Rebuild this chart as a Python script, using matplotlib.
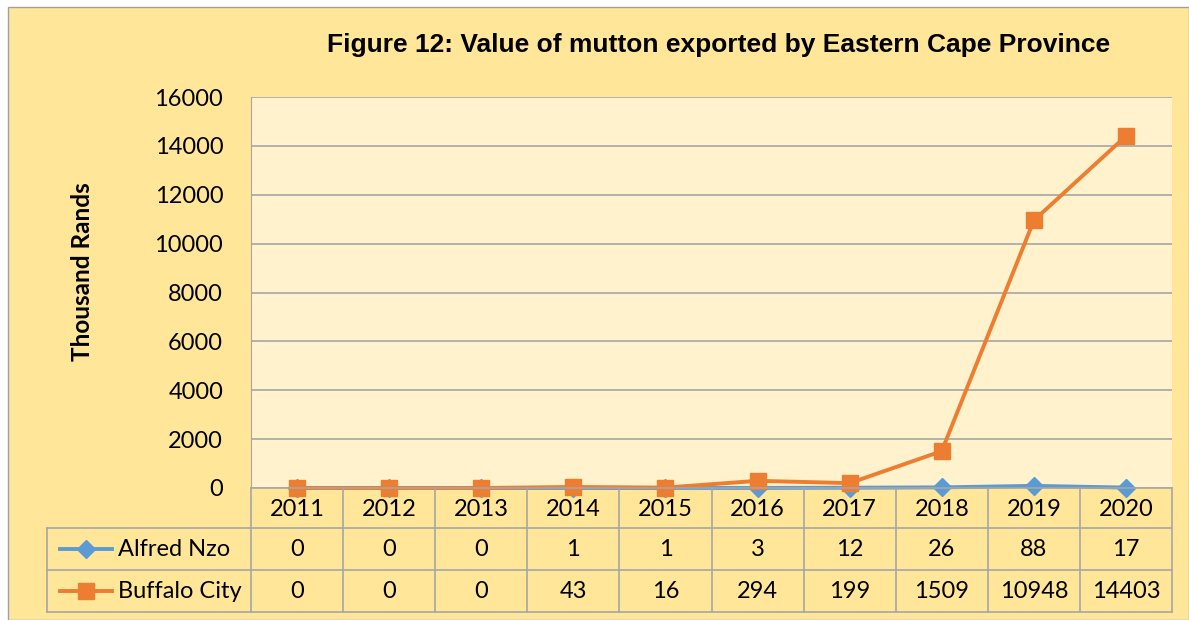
import matplotlib
matplotlib.use('Agg')
import matplotlib.pyplot as plt
from matplotlib.patches import Rectangle
from matplotlib.lines import Line2D

years = ['2011', '2012', '2013', '2014', '2015', '2016', '2017', '2018', '2019', '2020']
alfred_nzo = [0, 0, 0, 1, 1, 3, 12, 26, 88, 17]
buffalo_city = [0, 0, 0, 43, 16, 294, 199, 1509, 10948, 14403]
series_names = ['Alfred Nzo', 'Buffalo City']
y_ticks = [0, 2000, 4000, 6000, 8000, 10000, 12000, 14000, 16000]

W, H = 1189, 620
outer_bg = '#FFE699'
plot_bg = '#FFF2CC'
grid_c = '#A6A6A6'
blue = '#5B9BD5'
orange = '#ED7D31'

plt.rcParams['font.family'] = ['Lato', 'DejaVu Sans']

fig = plt.figure(figsize=(W / 100, H / 100), dpi=100)
fig.patch.set_facecolor('white')
# chart area frame
fig.patches.append(Rectangle((8 / W, 0), 1 - 8 / W, 1 - 7 / H, transform=fig.transFigure,
                             facecolor=outer_bg, edgecolor='#A0A0A0', linewidth=1, zorder=-10))

left, right, top, bottom = 251, 1172, 97, 488
ax = fig.add_axes([left / W, 1 - bottom / H, (right - left) / W, (bottom - top) / H])
ax.set_facecolor(plot_bg)

x = list(range(len(years)))
ax.plot(x, alfred_nzo, color=blue, lw=2.8, marker='D', ms=9, clip_on=False, zorder=3)
ax.plot(x, buffalo_city, color=orange, lw=2.8, marker='s', ms=11, clip_on=False, zorder=4)

ax.set_xlim(-0.5, len(years) - 0.5)
ax.set_ylim(0, 16000)
ax.set_yticks(y_ticks)
ax.set_yticklabels([str(v) for v in y_ticks], fontsize=17)
ax.tick_params(axis='y', length=0, pad=20)
ax.set_xticks([])
ax.grid(axis='y', color=grid_c, lw=1.2)
ax.set_axisbelow(True)
for s in ['top', 'right', 'bottom']:
    ax.spines[s].set_visible(False)
ax.spines['left'].set_color(grid_c)

fig.text(719 / W, 1 - 45 / H, 'Figure 12: Value of mutton exported by Eastern Cape Province',
         fontsize=19, fontweight='bold', family=['Liberation Sans', 'DejaVu Sans'],
         ha='center', va='center')
fig.text(83 / W, 1 - 272 / H, 'Thousand Rands', fontsize=17.5, fontweight='bold',
         rotation=90, ha='center', va='center')

# data table under the axis
def fy(py):
    return 1 - py / H

def fx(px):
    return px / W

row_edges = [488, 528, 570, 612]
col_w = (right - left) / len(years)
lw_t = 1.2
fig.add_artist(Line2D([fx(left), fx(right)], [fy(488)] * 2, color=grid_c, lw=lw_t))
for py in row_edges[1:]:
    fig.add_artist(Line2D([fx(47), fx(right)], [fy(py)] * 2, color=grid_c, lw=lw_t))
for i in range(len(years) + 1):
    px = left + i * col_w
    fig.add_artist(Line2D([fx(px)] * 2, [fy(488), fy(612)], color=grid_c, lw=lw_t))
fig.add_artist(Line2D([fx(47)] * 2, [fy(528), fy(612)], color=grid_c, lw=lw_t))

rows = [years, [str(v) for v in alfred_nzo], [str(v) for v in buffalo_city]]
for r, vals in enumerate(rows):
    cy = (row_edges[r] + row_edges[r + 1]) / 2
    for i, v in enumerate(vals):
        fig.text(fx(left + (i + 0.5) * col_w), fy(cy + 1), v, fontsize=17,
                 ha='center', va='center')

styles = [(blue, 'D', 9), (orange, 's', 11)]
for r, (name, (c, m, ms)) in enumerate(zip(series_names, styles)):
    cy = fy((row_edges[r + 1] + row_edges[r + 2]) / 2)
    fig.add_artist(Line2D([fx(60), fx(112)], [cy, cy], color=c, lw=2.8))
    fig.add_artist(Line2D([fx(86)], [cy], color=c, marker=m, ms=ms, lw=0))
    fig.text(fx(118), cy, name, fontsize=17, ha='left', va='center')

fig.savefig('out.png', dpi=100)
